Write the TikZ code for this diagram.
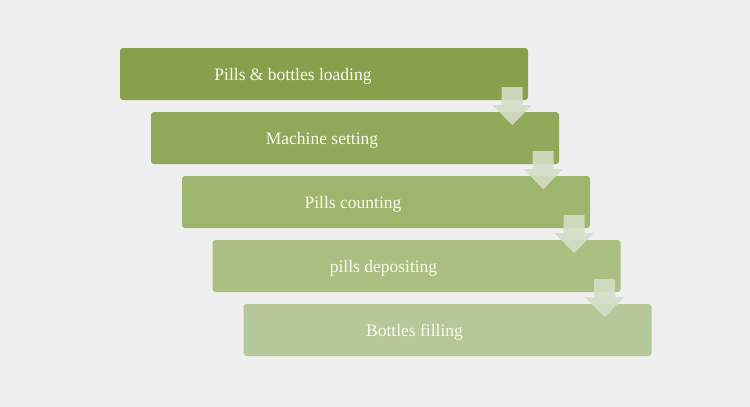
\documentclass[tikz,border=0pt]{standalone}
\usepackage{fontspec}
\setmainfont{Liberation Serif}
\usetikzlibrary{calc}
\definecolor{bg}{RGB}{239,239,239}
\definecolor{c1}{RGB}{134,160,76}
\definecolor{c2}{RGB}{145,169,90}
\definecolor{c3}{RGB}{158,181,110}
\definecolor{c4}{RGB}{171,191,131}
\definecolor{c5}{RGB}{183,200,152}
\definecolor{arr}{RGB}{212,222,198}
\definecolor{txt}{RGB}{250,250,238}
\tikzset{
  stepbox/.style={draw=none, rounded corners=3pt, minimum width=408pt, minimum height=52pt, inner sep=0pt},
  steptext/.style={text=txt, font=\fontsize{17.5}{20}\selectfont, inner sep=0pt},
  flowarrow/.style={fill=arr, fill opacity=0.9, draw=none}
}
\begin{document}
\begin{tikzpicture}[x=1pt,y=1pt]
\fill[bg] (0,0) rectangle (750,-407);
\useasboundingbox (0,0) rectangle (750,-407);
\node[stepbox, fill=c1] (b1) at (324,-74) {};
\node[stepbox, fill=c2] (b2) at (355,-138) {};
\node[stepbox, fill=c3] (b3) at (386,-202) {};
\node[stepbox, fill=c4] (b4) at (416.5,-266) {};
\node[stepbox, fill=c5] (b5) at (447.5,-330) {};
\node[steptext] (t1) at ($(b1.center)+(-31,-2.5)$) {Pills \& bottles loading};
\node[steptext] (t2) at ($(b2.center)+(-33,-2.5)$) {Machine setting};
\node[steptext] (t3) at ($(b3.center)+(-33,-2.5)$) {Pills counting};
\node[steptext] (t4) at ($(b4.center)+(-33,-2.5)$) {pills depositing};
\node[steptext] (t5) at ($(b5.center)+(-33,-2.5)$) {Bottles filling};
\foreach \i in {1,2,3,4}{
  \coordinate (a\i) at ($(b\i.south east)+(-16,0)$);
  \fill[flowarrow] ($(a\i)+(-10.5,13)$) -- ($(a\i)+(10.5,13)$) -- ($(a\i)+(10.5,-5)$)
    -- ($(a\i)+(19.5,-5)$) -- ($(a\i)+(0,-25)$) -- ($(a\i)+(-19.5,-5)$)
    -- ($(a\i)+(-10.5,-5)$) -- cycle;
}
\end{tikzpicture}
\end{document}
